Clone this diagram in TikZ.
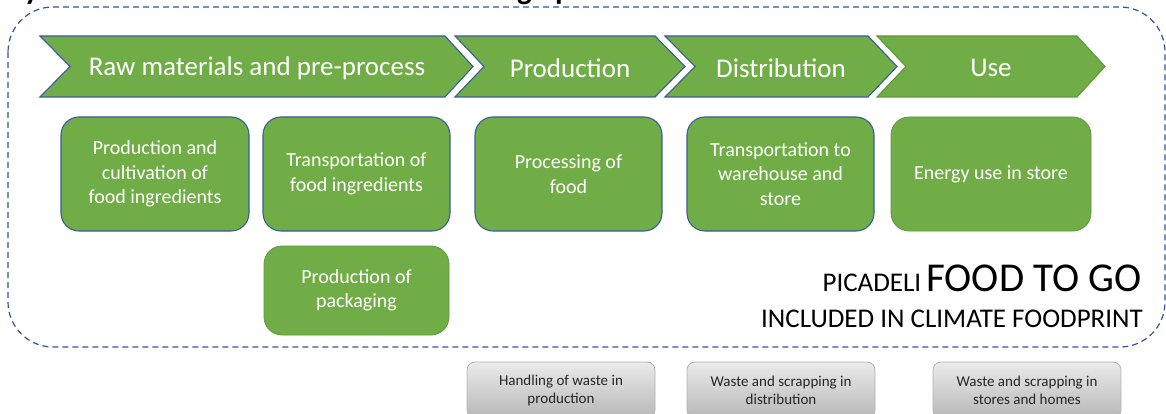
\documentclass[tikz,border=0pt]{standalone}
\usepackage{fontspec}
\setmainfont{Carlito}
\definecolor{gfill}{HTML}{70AD47}
\definecolor{bline}{HTML}{3A5C9C}
\definecolor{gline}{HTML}{5E9A3A}
\definecolor{dline}{HTML}{2F5597}
\definecolor{wtext}{HTML}{262626}
\tikzset{
  chev/.style={fill=gfill, draw=bline, line width=1.1pt, line join=miter},
  chevg/.style={fill=gfill, draw=gline, line width=1.1pt, line join=miter},
  chevtext/.style={text=white, font=\fontsize{27}{32}\selectfont, inner sep=0pt},
  gbox/.style={rectangle, rounded corners=18pt, fill=gfill, draw=bline, line width=1.1pt,
    text=white, align=center, font=\fontsize{20}{24.5}\selectfont, inner sep=2pt},
  gboxg/.style={gbox, draw=gline, line width=0.8pt},
  wbox/.style={rectangle, rounded corners=8pt, top color=black!8, bottom color=black!28,
    draw=black!30, line width=0.8pt, text=wtext, align=center,
    font=\fontsize{15}{18}\selectfont, minimum width=188pt, minimum height=56pt, inner sep=2pt},
  bound/.style={draw=dline, line width=1.2pt, dash pattern=on 6pt off 4pt, rounded corners=45pt}
}
\begin{document}
\begin{tikzpicture}[x=1pt,y=-1pt]
\useasboundingbox (0,0) rectangle (1166,414);
% cut-off title
\node[anchor=base west, inner sep=0pt, font=\bfseries\fontsize{31}{34}\selectfont] (title) at (10,-0.5)
  {System boundaries for Picadeli Food to go products};
% boundary
\draw[bound] (8,7) rectangle (1165,347);
% chevrons
\path[chev] (40,36) -- (445,36) -- (473,66.5) -- (445,97) -- (40,97) -- (70,66.5) -- cycle;
\path[chev] (455,36) -- (655,36) -- (685,66.5) -- (655,97) -- (455,97) -- (484,66.5) -- cycle;
\path[chev] (665,36) -- (868,36) -- (897,66.5) -- (868,97) -- (665,97) -- (695,66.5) -- cycle;
\path[chevg] (877,36) -- (1077,36) -- (1105,66.5) -- (1077,97) -- (877,97) -- (906,66.5) -- cycle;
\node[chevtext] (c1) at (257,68) {Raw materials and pre-process};
\node[chevtext] (c2) at (570,68) {Production};
\node[chevtext] (c3) at (781,68) {Distribution};
\node[chevtext] (c4) at (991,68) {Use};
% green boxes
\node[gbox, minimum width=188pt, minimum height=114pt] (b1) at (155,174) {Production and\\cultivation of\\food ingredients};
\node[gbox, minimum width=187pt, minimum height=114pt] (b2) at (356.5,174) {Transportation of\\food ingredients};
\node[gbox, minimum width=187pt, minimum height=114pt] (b3) at (568.5,174) {Processing of\\food};
\node[gbox, minimum width=187pt, minimum height=114pt] (b4) at (780.5,174) {Transportation to\\warehouse and\\store};
\node[gboxg, minimum width=200pt, minimum height=114pt] (b5) at (991,174) {Energy use in store};
\node[gboxg, minimum width=185pt, minimum height=89pt] (b6) at (356.5,290.5) {Production of\\packaging};
% labels
\node[anchor=base east, inner sep=0pt] (pic) at (1142,291)
  {{\fontsize{27}{30}\selectfont PICADELI}\hspace{5pt}{\fontsize{41}{45}\selectfont FOOD TO GO}};
\node[anchor=base east, inner sep=0pt, font=\fontsize{27}{30}\selectfont] (incl) at (1143,327)
  {INCLUDED IN CLIMATE FOODPRINT};
% waste boxes
\node[wbox] (w1) at (561,390) {Handling of waste in\\production};
\node[wbox] (w2) at (781,390) {Waste and scrapping in\\distribution};
\node[wbox] (w3) at (1027,390) {Waste and scrapping in\\stores and homes};
\end{tikzpicture}
\end{document}
